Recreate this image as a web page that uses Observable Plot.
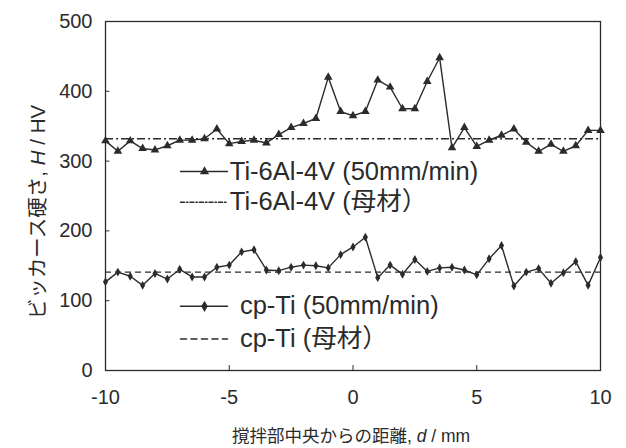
<!DOCTYPE html>
<html>
<head>
<meta charset="utf-8">
<script src="https://cdn.jsdelivr.net/npm/d3@7"></script>
<script src="https://cdn.jsdelivr.net/npm/@observablehq/plot@0.6"></script>
<style>
  html, body { margin: 0; padding: 0; background: #fff; }
  #chart { width: 626px; height: 448px; }
  svg { font-family: "Liberation Sans", Arial, "Noto Sans CJK JP", sans-serif; }
</style>
</head>
<body>
<div id="chart"></div>
<script>
// Distance from the stir-zone centre, d / mm
const distance = [
  -10, -9.5, -9, -8.5, -8, -7.5, -7, -6.5, -6, -5.5, -5, -4.5, -4, -3.5, -3, -2.5, -2, -1.5, -1, -0.5,
  0, 0.5, 1, 1.5, 2, 2.5, 3, 3.5, 4, 4.5, 5, 5.5, 6, 6.5, 7, 7.5, 8, 8.5, 9, 9.5, 10
];

// Vickers hardness H / HV, Ti-6Al-4V welded at 50 mm/min
const ti64Hardness = [
  329, 314, 329, 318, 316, 322, 330, 330, 332, 346, 325, 328, 330, 326, 338, 348, 354, 361, 420, 371,
  365, 371, 416, 406, 375, 375, 414, 448, 319, 348, 321, 330, 337, 346, 327, 314, 324, 314, 322, 344, 344
];

// Vickers hardness H / HV, cp-Ti welded at 50 mm/min
const cpTiHardness = [
  127, 141, 135, 122, 139, 131, 145, 134, 134, 148, 151, 170, 173, 144, 143, 148, 151, 150, 147, 166,
  177, 191, 133, 151, 138, 159, 142, 147, 148, 144, 137, 160, 179, 121, 141, 146, 125, 140, 156, 122, 162
];

// Base-metal hardness levels
const ti64Base = 332;
const cpTiBase = 141;

const xTicks = [-10, -5, 0, 5, 10];
const yTicks = [0, 100, 200, 300, 400, 500];

const legendLabels = [
  "Ti-6Al-4V (50mm/min)",
  "Ti-6Al-4V (母材）",
  "cp-Ti (50mm/min)",
  "cp-Ti (母材）"
];

const ink = "#2b2b2b";
const baseDashTi = "8,3,2,3";
const baseDashCp = "6,4";

const ti64 = distance.map((d, i) => ({d, h: ti64Hardness[i]}));
const cpTi = distance.map((d, i) => ({d, h: cpTiHardness[i]}));

// Legend placement (in data units, inside the plot)
const legX = [-6.97, -5.07];
const legSym = -6.0;
const legRows = [
  {label: legendLabels[0], y: 285, dash: null, symbol: "triangle", tx: -4.98},
  {label: legendLabels[1], y: 241, dash: "4,2,1.5,2", symbol: null, tx: -4.98},
  {label: legendLabels[2], y: 92, dash: null, symbol: "diamond", tx: -4.57},
  {label: legendLabels[3], y: 45, dash: "6,4.5", symbol: null, tx: -4.57}
];

const chart = Plot.plot({
  width: 626,
  height: 448,
  marginLeft: 105,
  marginRight: 26,
  marginTop: 21,
  marginBottom: 78,
  x: {domain: [-10, 10]},
  y: {domain: [0, 500]},
  style: {fontFamily: '"Liberation Sans", Arial, "Noto Sans CJK JP", sans-serif', color: ink},
  marks: [
    Plot.frame({stroke: ink, strokeWidth: 1.3}),
    Plot.axisY({ticks: yTicks, tickSize: 0, tickPadding: 13, fontSize: 20, label: null, tickFormat: d => String(d)}),
    Plot.axisX({ticks: xTicks, tickSize: 0, tickPadding: 19, fontSize: 20, label: null, tickFormat: d => String(d)}),
    // inward tick marks
    Plot.ruleY(yTicks.slice(1, -1), {y: d => d, x1: -10, x2: -9.82, stroke: ink, strokeWidth: 1}),
    Plot.ruleX(xTicks.slice(1, -1), {x: d => d, y1: 0, y2: 7, stroke: ink, strokeWidth: 1}),
    // base-metal reference lines
    Plot.ruleY([ti64Base], {stroke: ink, strokeWidth: 1.4, strokeDasharray: baseDashTi}),
    Plot.ruleY([cpTiBase], {stroke: ink, strokeWidth: 1.4, strokeDasharray: baseDashCp}),
    // measured profiles
    Plot.line(ti64, {x: "d", y: "h", stroke: ink, strokeWidth: 1.4}),
    Plot.dot(ti64, {x: "d", y: "h", symbol: "triangle", r: 3.2, fill: ink, stroke: "none"}),
    Plot.line(cpTi, {x: "d", y: "h", stroke: ink, strokeWidth: 1.4}),
    Plot.dot(cpTi, {x: "d", y: "h", symbol: "diamond", r: 2.7, fill: ink, stroke: "none"}),
    // legend
    ...legRows.map(r => Plot.line(legX.map(x => ({x, y: r.y})), {x: "x", y: "y", stroke: ink, strokeWidth: 1.5, strokeDasharray: r.dash})),
    Plot.dot(legRows.filter(r => r.symbol), {x: () => legSym, y: "y", symbol: "symbol", r: 3.4, fill: ink, stroke: "none"}),
    Plot.text(legRows, {x: "tx", y: "y", text: "label", textAnchor: "start", fontSize: 25.5, fill: ink})
  ]
});

document.getElementById("chart").appendChild(chart);

// Axis titles with italic quantity symbols
const svg = d3.select(chart);
const xt = svg.append("text")
  .attr("x", 351).attr("y", 442)
  .attr("text-anchor", "middle")
  .attr("font-size", 17.5)
  .attr("fill", ink);
xt.append("tspan").text("撹拌部中央からの距離, ");
xt.append("tspan").attr("font-style", "italic").text("d");
xt.append("tspan").text(" / mm");

const yt = svg.append("text")
  .attr("transform", "translate(45,212) rotate(-90)")
  .attr("text-anchor", "middle")
  .attr("font-size", 20.5)
  .attr("fill", ink);
yt.append("tspan").text("ビッカース硬さ, ");
yt.append("tspan").attr("font-style", "italic").text("H");
yt.append("tspan").text(" / HV");
</script>
</body>
</html>
